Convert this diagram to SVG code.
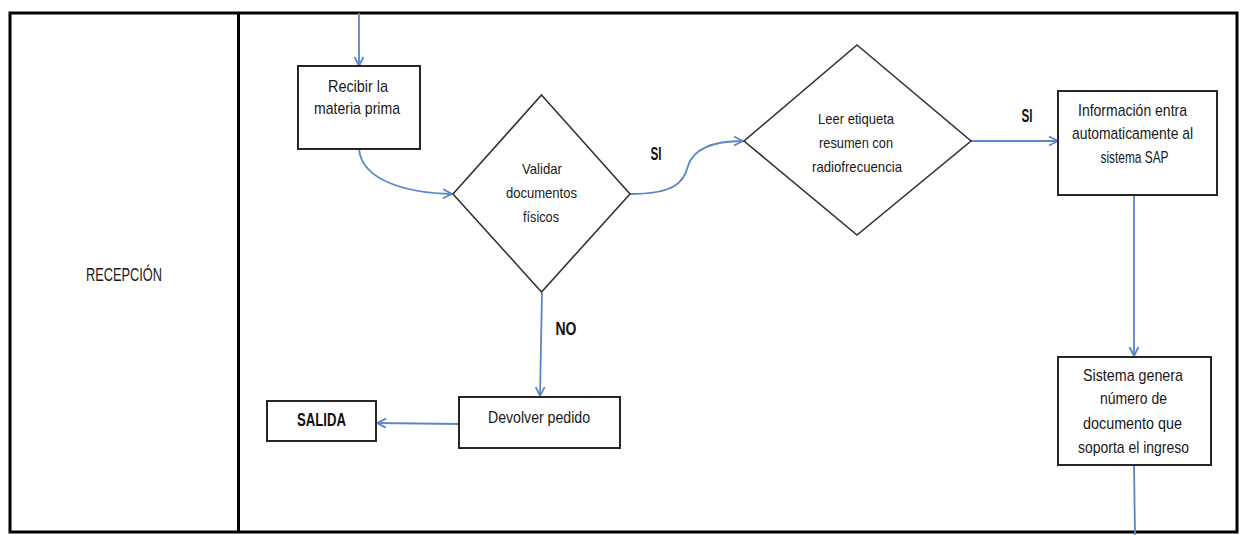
<svg xmlns="http://www.w3.org/2000/svg" width="1241" height="535" viewBox="0 0 1241 535">
<style>
.frame{fill:none;stroke:#000;stroke-width:3}
.box{fill:#fff;stroke:#262626;stroke-width:2}
.dia{fill:#fff;stroke:#333;stroke-width:1.6}
.con{fill:none;stroke:#5b87c6;stroke-width:1.8}
.t{font-family:"Liberation Sans Narrow","Liberation Sans",Arial,sans-serif;font-size:17px;fill:#1a1a1a;text-anchor:middle}
.d{font-family:"Liberation Sans","Open Sans",sans-serif;font-size:15px;fill:#1a1a1a;text-anchor:middle}
.b{font-family:"Liberation Sans Narrow","Liberation Sans",Arial,sans-serif;font-size:18px;font-weight:bold;fill:#111;text-anchor:middle}
</style>
<defs>
<marker id="arr" markerUnits="userSpaceOnUse" markerWidth="12" markerHeight="12" viewBox="-1 -6 11 12" refX="9" refY="0" orient="auto">
<path d="M0,-4.5 L9,0 L0,4.5" fill="none" stroke="#5b87c6" stroke-width="1.8"/>
</marker>
</defs>
<rect width="1241" height="535" fill="#fff"/>
<g id="lanes">
<rect class="frame" x="10" y="13" width="1227" height="519"/>
<line class="frame" x1="238.5" y1="13" x2="238.5" y2="532"/>
</g>
<g id="lane-label">
<text class="t" x="124" y="281" style="font-size:18px" textLength="76" lengthAdjust="spacingAndGlyphs">RECEPCIÓN</text>
</g>
<g id="connectors">
<line class="con" x1="359" y1="13" x2="359" y2="66" marker-end="url(#arr)"/>
<path class="con" d="M359,149 C362,182 410,193 452,194" marker-end="url(#arr)"/>
<path class="con" d="M630,194 C675,194 684,182 688,166 C694,147 715,141 743,141" marker-end="url(#arr)"/>
<line class="con" x1="971" y1="141" x2="1058" y2="141" marker-end="url(#arr)"/>
<line class="con" x1="542" y1="293" x2="540" y2="396" marker-end="url(#arr)"/>
<line class="con" x1="459" y1="424" x2="377" y2="423" marker-end="url(#arr)"/>
<line class="con" x1="1134" y1="195" x2="1134" y2="356" marker-end="url(#arr)"/>
<line class="con" x1="1134" y1="465" x2="1135" y2="535"/>
<text class="b" x="656" y="160" textLength="11" lengthAdjust="spacingAndGlyphs">SI</text>
<text class="b" x="1027" y="122" textLength="11" lengthAdjust="spacingAndGlyphs">SI</text>
<text class="b" x="566" y="335" textLength="21" lengthAdjust="spacingAndGlyphs">NO</text>
</g>
<g id="recibir">
<rect class="box" x="298" y="66" width="122" height="83"/>
<text class="t" x="358" y="92" textLength="60" lengthAdjust="spacingAndGlyphs">Recibir la</text>
<text class="t" x="357" y="114" textLength="86" lengthAdjust="spacingAndGlyphs">materia prima</text>
</g>
<g id="validar">
<polygon class="dia" points="541.5,95 630,194 541.5,292 453,194"/>
<text class="d" x="542" y="174" textLength="40" lengthAdjust="spacingAndGlyphs">Validar</text>
<text class="d" x="541.5" y="198" textLength="71" lengthAdjust="spacingAndGlyphs">documentos</text>
<text class="d" x="541" y="222" textLength="36" lengthAdjust="spacingAndGlyphs">físicos</text>
</g>
<g id="leer">
<polygon class="dia" points="857,45 971,141 857,235 744,141"/>
<text class="d" x="856" y="124" textLength="76" lengthAdjust="spacingAndGlyphs">Leer etiqueta</text>
<text class="d" x="856" y="148" textLength="74" lengthAdjust="spacingAndGlyphs">resumen con</text>
<text class="d" x="857" y="172" textLength="90" lengthAdjust="spacingAndGlyphs">radiofrecuencia</text>
</g>
<g id="informacion">
<rect class="box" x="1058" y="91" width="159" height="104"/>
<text class="t" x="1132.5" y="116" textLength="109" lengthAdjust="spacingAndGlyphs">Información entra</text>
<text class="t" x="1132.5" y="139" textLength="121" lengthAdjust="spacingAndGlyphs">automaticamente al</text>
<text class="t" x="1134.5" y="163" textLength="68" lengthAdjust="spacingAndGlyphs">sistema SAP</text>
</g>
<g id="sistema">
<rect class="box" x="1058" y="357" width="153" height="108"/>
<text class="t" x="1133" y="381" textLength="100" lengthAdjust="spacingAndGlyphs">Sistema genera</text>
<text class="t" x="1133.5" y="404" textLength="67" lengthAdjust="spacingAndGlyphs">número de</text>
<text class="t" x="1132.5" y="429" textLength="99" lengthAdjust="spacingAndGlyphs">documento que</text>
<text class="t" x="1133.5" y="453" textLength="111" lengthAdjust="spacingAndGlyphs">soporta el ingreso</text>
</g>
<g id="devolver">
<rect class="box" x="459" y="397" width="161" height="51"/>
<text class="t" x="539" y="423" textLength="102" lengthAdjust="spacingAndGlyphs">Devolver pedido</text>
</g>
<g id="salida">
<rect class="box" x="267" y="401" width="109" height="40"/>
<text class="b" x="321.5" y="426" textLength="49" lengthAdjust="spacingAndGlyphs">SALIDA</text>
</g>
</svg>
